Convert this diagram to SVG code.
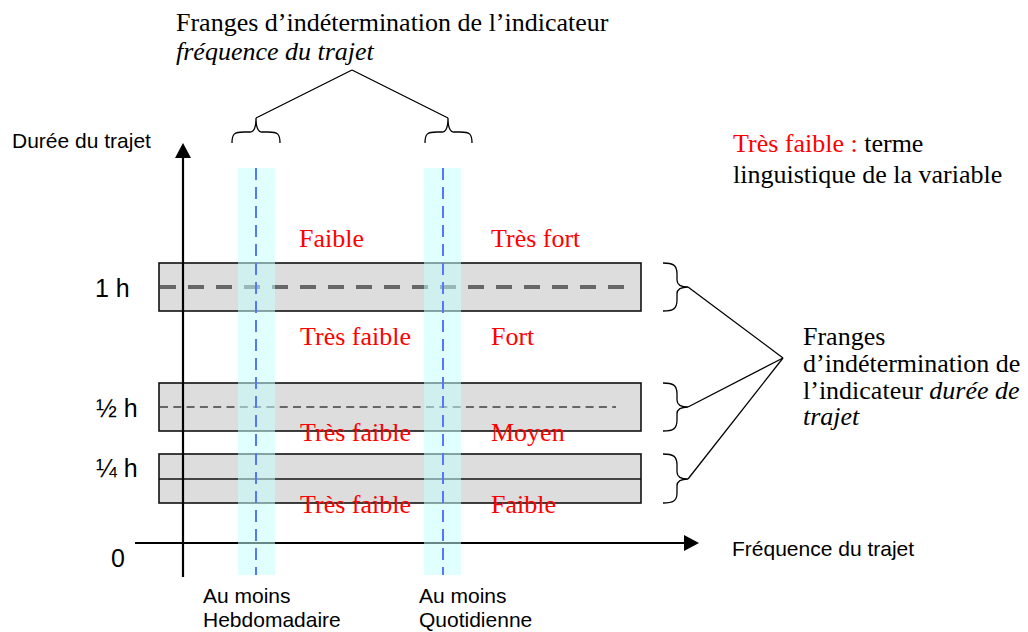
<svg xmlns="http://www.w3.org/2000/svg" width="1028" height="632" viewBox="0 0 1028 632">
<defs>
<style>
.tr{font-family:"Liberation Serif","Times New Roman",serif;font-size:26px;fill:#000}
.red{fill:#ff0000}
.ar{font-family:"Liberation Sans",Arial,sans-serif;font-size:21px;fill:#000}
.big{font-size:25px}
.box{fill:#dddddd;stroke:#111;stroke-width:1.6}
.band{fill:#c5ffff;fill-opacity:0.53}
.blue{stroke:#5577ff;stroke-width:2;stroke-dasharray:12 7;fill:none}
.ln{stroke:#000;stroke-width:1.3;fill:none}
.axis{stroke:#000;stroke-width:2.2;fill:none}
</style>
<marker id="arr" markerWidth="10" markerHeight="10" refX="8" refY="4" orient="auto" markerUnits="userSpaceOnUse" viewBox="0 0 8 8">
<path d="M0,0 L8,4 L0,8 Z" fill="#000"/>
</marker>
</defs>
<rect width="1028" height="632" fill="#fff"/>

<g id="boxes">
<rect class="box" x="159" y="263" width="482" height="48"/>
<line x1="160" y1="287" x2="624" y2="287" stroke="#666" stroke-width="4" stroke-dasharray="16 12"/>
<rect class="box" x="159" y="383" width="482" height="48"/>
<line x1="160" y1="407" x2="616" y2="407" stroke="#666" stroke-width="2" stroke-dasharray="8 5.3"/>
<rect class="box" x="159" y="454" width="482" height="49"/>
<line x1="159" y1="479" x2="641" y2="479" stroke="#111" stroke-width="1.6"/>
</g>

<g id="axes">
<line class="axis" x1="183" y1="577" x2="183" y2="158"/>
<path d="M175,158 L183,143 L191,158 Z" fill="#000"/>
<line class="axis" x1="135" y1="543" x2="684" y2="543"/>
<path d="M684,535 L699,543 L684,551 Z" fill="#000"/>
</g>

<g id="bands">
<rect class="band" x="238" y="168" width="37" height="407"/>
<rect class="band" x="424" y="168" width="37" height="407"/>
<line class="blue" x1="256" y1="168" x2="256" y2="575"/>
<line class="blue" x1="443" y1="168" x2="443" y2="575"/>
</g>

<g id="connectors">
<path class="ln" d="M232,143 C232,134 234,132 244,132 L250,132 C254,132 256,128 256,118 C256,128 258,132 262,132 L268,132 C278,132 280,134 280,143"/>
<path class="ln" d="M425,143 C425,134 427,132 437,132 L442,132 C446,132 448,128 448,118 C448,128 450,132 454,132 L460,132 C470,132 472,134 472,143"/>
<line class="ln" x1="352" y1="70" x2="256" y2="118"/>
<line class="ln" x1="352" y1="70" x2="448" y2="118"/>
<path class="ln" d="M663,263 C673,263 677,265 677,274 L677,280 C677,284 680,287 688,287 C680,287 677,290 677,294 L677,300 C677,309 673,311 663,311"/>
<path class="ln" d="M663,383 C673,383 677,385 677,394 L677,400 C677,404 680,407 688,407 C680,407 677,410 677,414 L677,420 C677,429 673,431 663,431"/>
<path class="ln" d="M663,454 C673,454 677,456 677,465 L677,472 C677,476 680,479 688,479 C680,479 677,482 677,486 L677,493 C677,501 673,503 663,503"/>
<line class="ln" x1="783" y1="358" x2="688" y2="287"/>
<line class="ln" x1="783" y1="358" x2="688" y2="407"/>
<line class="ln" x1="783" y1="358" x2="688" y2="479"/>
</g>

<g id="terms">
<text class="tr red" x="299" y="247">Faible</text>
<text class="tr red" x="491" y="247">Très fort</text>
<text class="tr red" x="300" y="345">Très faible</text>
<text class="tr red" x="491" y="345">Fort</text>
<text class="tr red" x="300" y="441">Très faible</text>
<text class="tr red" x="491" y="441">Moyen</text>
<text class="tr red" x="300" y="513">Très faible</text>
<text class="tr red" x="491" y="513">Faible</text>
</g>

<g id="axis-labels">
<text class="ar" x="12" y="148">Durée du trajet</text>
<text class="ar big" x="95" y="297">1 h</text>
<text class="ar big" x="96" y="417">½ h</text>
<text class="ar big" x="96" y="477">¼ h</text>
<text class="ar big" x="111" y="567">0</text>
<text class="ar" x="732" y="556">Fréquence du trajet</text>
<text class="ar" x="203" y="603">Au moins</text>
<text class="ar" x="203" y="627">Hebdomadaire</text>
<text class="ar" x="419" y="603">Au moins</text>
<text class="ar" x="419" y="627">Quotidienne</text>
</g>

<g id="title-top">
<text class="tr" x="176" y="31">Franges d’indétermination de l’indicateur</text>
<text class="tr" x="176" y="60" font-style="italic">fréquence du trajet</text>
</g>

<g id="legend">
<text class="tr" x="733" y="152"><tspan class="red">Très faible : </tspan>terme</text>
<text class="tr" x="733" y="183">linguistique de la variable</text>
</g>

<g id="title-right">
<text class="tr" x="803" y="345">Franges</text>
<text class="tr" x="803" y="372">d’indétermination de</text>
<text class="tr" x="803" y="399">l’indicateur <tspan font-style="italic">durée de</tspan></text>
<text class="tr" x="803" y="425" font-style="italic">trajet</text>
</g>
</svg>
